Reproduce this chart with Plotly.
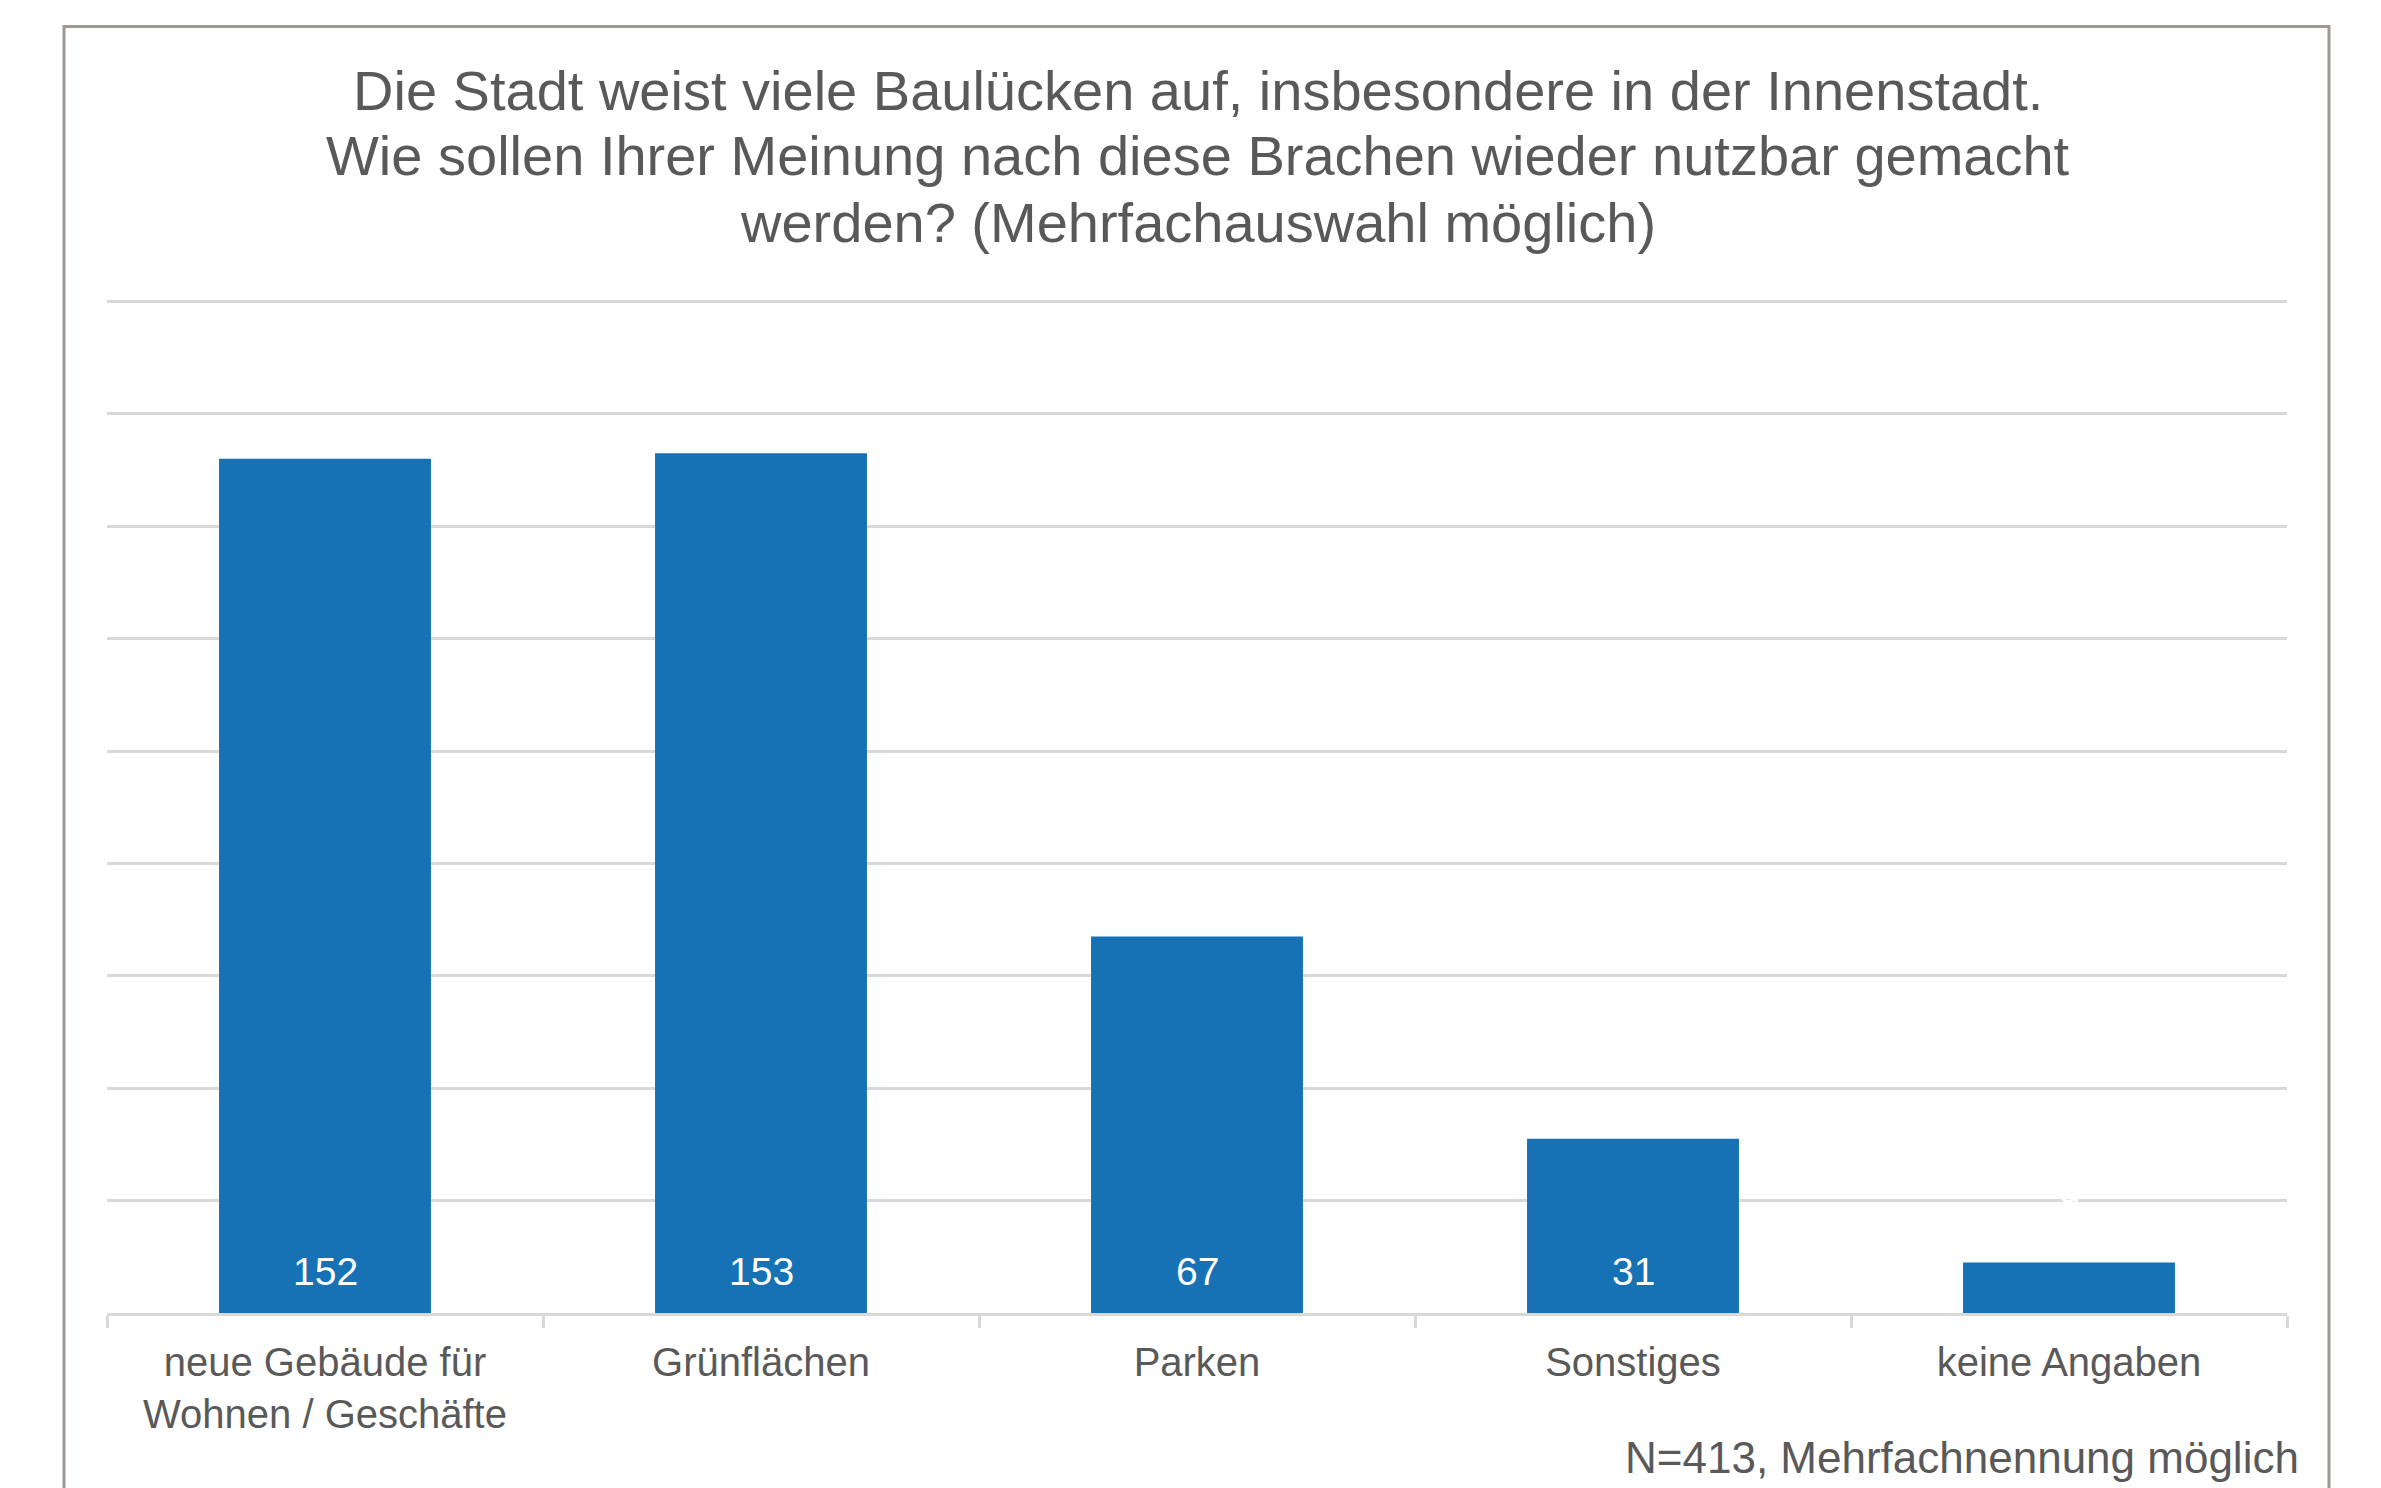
import plotly.graph_objects as go

categories = ["neue Gebäude für<br>Wohnen / Geschäfte", "Grünflächen", "Parken", "Sonstiges", "keine Angaben"]
values = [152, 153, 67, 31, 9]
title_lines = [
    "Die Stadt weist viele Baulücken auf, insbesondere in der Innenstadt.",
    "Wie sollen Ihrer Meinung nach diese Brachen wieder nutzbar gemacht",
    "werden? (Mehrfachauswahl möglich)",
]
note = "N=413, Mehrfachnennung möglich"

W, H = 2381, 1488
OFF = 8  # page body margin
Y_MAX = 180
Y_TOP = 184
# target screen positions (px)
X0s, X1s, Y1s = 107, 2287, 1313
PX_PER_UNIT = (1313 - 301) / Y_MAX
Y0s = Y1s - Y_TOP * PX_PER_UNIT
L = X0s - OFF
R = W - (X1s - OFF)
T = Y0s - OFF
B = H - (Y1s - OFF)
pw = W - L - R
ph = H - T - B

def px(xs):
    return (xs - OFF - L) / pw

def py(ys):
    return ((H - B) - (ys - OFF)) / ph

BAR = "#1672B5"
GRID = "#D9D9D9"
TXT = "#595959"
FONT = "Liberation Sans, Arial, sans-serif"

fig = go.Figure()
fig.add_trace(go.Bar(
    x=categories, y=values, marker=dict(color=BAR, line=dict(width=0)),
    width=0.486, hoverinfo="skip",
))

annotations = []
for c, v in zip(categories, values):
    if v >= 20:
        annotations.append(dict(x=c, y=0, xref="x", yref="y", text=str(v), showarrow=False,
                                yanchor="bottom", yshift=18,
                                font=dict(color="white", size=39, family=FONT)))
    else:
        annotations.append(dict(x=c, y=v, xref="x", yref="y", text=str(v), showarrow=False,
                                yanchor="bottom", yshift=40,
                                font=dict(color="white", size=39, family=FONT)))

for line, ys in zip(title_lines, [90, 155, 222]):
    annotations.append(dict(x=px(1198), y=py(ys), xref="paper", yref="paper", xanchor="center",
                            yanchor="middle", text=line, showarrow=False,
                            font=dict(color=TXT, size=56, family=FONT)))

annotations.append(dict(x=px(2301), y=py(1458), xref="paper", yref="paper",
                        xanchor="right", yanchor="middle", text=note, showarrow=False,
                        font=dict(color=TXT, size=44, family=FONT)))

fig.add_shape(type="rect", xref="paper", yref="paper",
              x0=px(64), x1=px(2329), y0=py(1530), y1=py(26),
              line=dict(color="#A09893", width=3), fillcolor="rgba(0,0,0,0)", layer="below")

fig.update_layout(
    width=W, height=H,
    margin=dict(l=L, r=R, t=T, b=B, autoexpand=False),
    paper_bgcolor="white", plot_bgcolor="white",
    showlegend=False,
    bargap=0.514,
    font=dict(family=FONT, color=TXT),
    xaxis=dict(showline=True, linecolor=GRID, linewidth=2.5, ticks="outside", tickson="boundaries",
               ticklen=12, tickcolor=GRID, tickwidth=2.5, showgrid=False,
               tickfont=dict(size=40, color=TXT, family=FONT), ticklabelstandoff=12),
    yaxis=dict(range=[0, Y_TOP], tickvals=list(range(20, Y_MAX + 1, 20)), showticklabels=False,
               showgrid=True, gridcolor=GRID, gridwidth=2.5, zeroline=False, showline=False),
    annotations=annotations,
)

fig.write_html("out.html")
